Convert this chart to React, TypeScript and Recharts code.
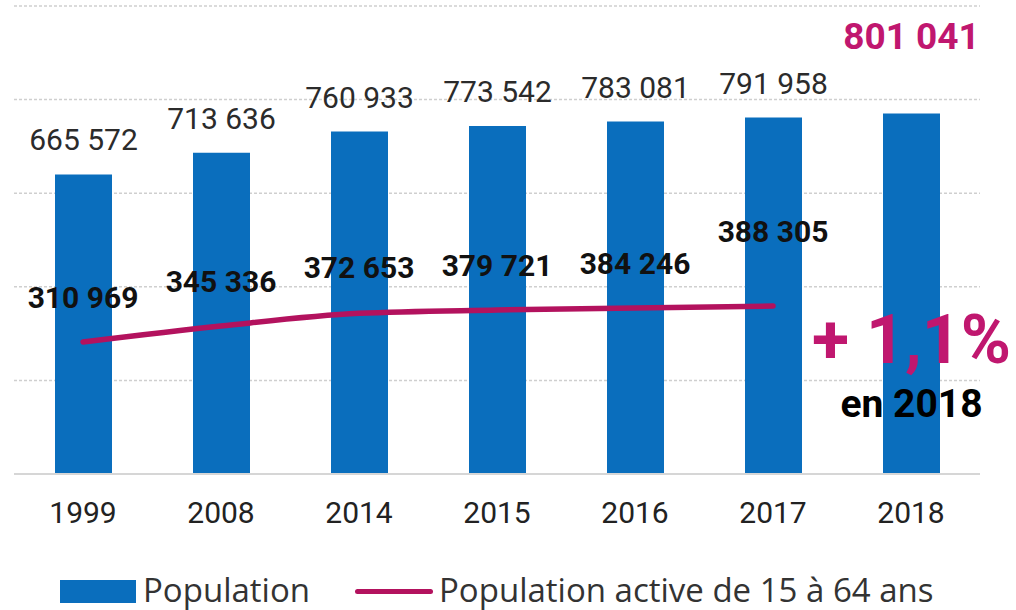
import React from 'react';
import { ComposedChart, Bar, Line, XAxis, YAxis, CartesianGrid, LabelList, Legend } from 'recharts';

// ---- data ----
const years = ['1999', '2008', '2014', '2015', '2016', '2017', '2018'];
const population = [665572, 713636, 760933, 773542, 783081, 791958, 801041];
const activePopulation: (number | null)[] = [310969, 345336, 372653, 379721, 384246, 388305, null];
const barTicks = [0, 208000, 416000, 624000, 832000, 1040000];
const barDomain = [0, 1040000];
const lineDomain = [27500, 1032800];
const growthLabel = '+ 1,1%';
const growthNote = 'en 2018';
const legendLabels = ['Population', 'Population active de 15 à 64 ans'];

// ---- styles ----
const BLUE = '#0a6ebd';
const MAGENTA = '#b3125e';
const MAGENTA_TEXT = '#c0176f';
const LINE_LABEL_LIFT = [34, 34, 35, 34, 34, 64];

const data = years.map((y, i) => ({ year: y, population: population[i], active: activePopulation[i] }));

const fmt = (v: number) => String(v).replace(/\B(?=(\d{3})+(?!\d))/g, ' ');

const BarLabel = (props: any) => {
  const { x, y, width, height, value, index } = props;
  const cx = x + width / 2;
  if (index === years.length - 1) {
    const base = y + height;
    return (
      <g>
        <text x={cx} y={y - 65} textAnchor="middle" fill={MAGENTA_TEXT} fontSize={37} fontWeight={700} fontFamily="Roboto">
          {fmt(value)}
        </text>
        <text x={cx} y={base - 111} textAnchor="middle" fill={MAGENTA_TEXT} fontSize={68} fontWeight={700} fontFamily="Roboto">
          {growthLabel}
        </text>
        <text x={cx} y={base - 57} textAnchor="middle" fill="#000" fontSize={39} fontWeight={700} fontFamily="Roboto">
          {growthNote}
        </text>
      </g>
    );
  }
  return (
    <text x={cx} y={y - 24} textAnchor="middle" fill="#2b2b2b" fontSize={30} fontFamily="Roboto">
      {fmt(value)}
    </text>
  );
};

const LineLabel = (props: any) => {
  const { x, y, value, index } = props;
  if (value == null) return null;
  return (
    <text x={x} y={y - LINE_LABEL_LIFT[index]} textAnchor="middle" fill="#111" fontSize={30} fontWeight={700} fontFamily="Roboto">
      {fmt(value)}
    </text>
  );
};

const LegendContent = () => (
  <div style={{ position: 'relative', width: 1016, height: 40, fontFamily: '"Open Sans"', fontSize: 33, color: '#333' }}>
    <div style={{ position: 'absolute', left: 60, top: 10, width: 76, height: 23, background: BLUE }} />
    <div style={{ position: 'absolute', left: 143, top: 0, lineHeight: '40px', whiteSpace: 'nowrap' }}>{legendLabels[0]}</div>
    <div style={{ position: 'absolute', left: 355, top: 19, width: 78, height: 5, borderRadius: 3, background: MAGENTA }} />
    <div style={{ position: 'absolute', left: 439, top: 0, lineHeight: '40px', whiteSpace: 'nowrap' }}>{legendLabels[1]}</div>
  </div>
);

export default function App() {
  return (
    <div style={{ position: 'absolute', left: 0, top: 0, width: 1016, height: 610, background: '#fff', fontFamily: 'Roboto' }}>
      <ComposedChart width={1016} height={610} data={data} margin={{ top: 6, right: 36, left: 14, bottom: 0 }}>
        <CartesianGrid yAxisId="left" vertical={false} stroke="#cfcfcf" strokeDasharray="3 2" strokeWidth={1.5} />
        <XAxis
          dataKey="year"
          height={96}
          tickLine={false}
          tickSize={0}
          tickMargin={28}
          axisLine={{ stroke: '#d6d6d6', strokeWidth: 2 }}
          tick={{ fill: '#222', fontSize: 30, fontFamily: 'Roboto' }}
          interval={0}
        />
        <YAxis yAxisId="left" hide domain={barDomain} ticks={barTicks} />
        <YAxis yAxisId="right" hide orientation="right" domain={lineDomain} />
        <Bar yAxisId="left" dataKey="population" fill={BLUE} barSize={57} isAnimationActive={false}>
          <LabelList dataKey="population" content={BarLabel} />
        </Bar>
        <Line
          yAxisId="right"
          type="monotone"
          dataKey="active"
          stroke={MAGENTA}
          strokeWidth={5.5}
          strokeLinecap="round"
          dot={false}
          activeDot={false}
          isAnimationActive={false}
        >
          <LabelList dataKey="active" content={LineLabel} />
        </Line>
        <Legend verticalAlign="bottom" height={40} wrapperStyle={{ left: 0, width: 1016 }} content={LegendContent} />
      </ComposedChart>
    </div>
  );
}
